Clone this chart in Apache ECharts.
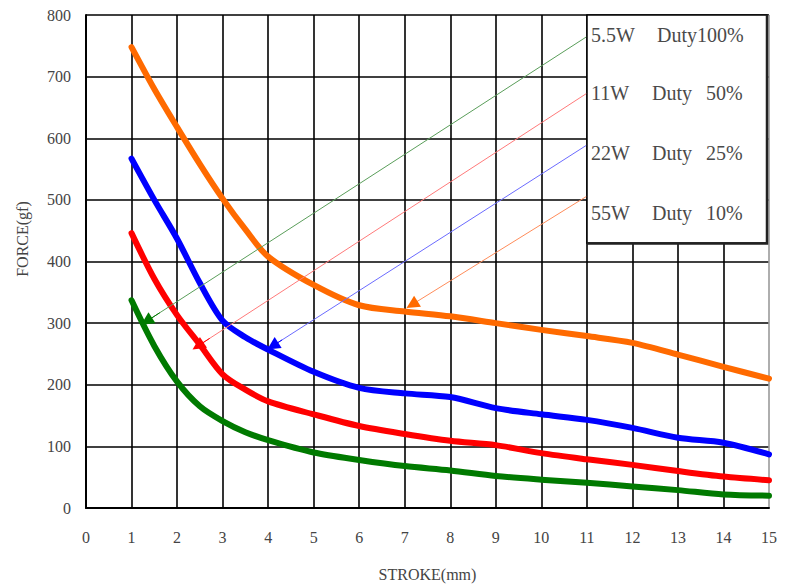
<!DOCTYPE html>
<html><head><meta charset="utf-8">
<script src="https://cdn.jsdelivr.net/npm/echarts@6.0.0/dist/echarts.min.js"></script>
<style>html,body{margin:0;padding:0;background:#fff}#c{width:790px;height:587px}</style>
</head><body><div id="c"></div>
<script>
// ---- data ----
const stroke = [1, 1.5, 2, 2.5, 3, 3.5, 4, 5, 6, 7, 8, 9, 10, 11, 12, 13, 14, 15];
const force55W = [748, 680, 618, 558, 502, 452, 408, 362, 329, 319, 311, 300, 289, 279, 268, 249, 229, 210];
const force22W = [567, 500, 437, 365, 304, 277, 257, 221, 195, 186, 180, 162, 152, 143, 130, 114, 106, 87];
const force11W = [446, 372, 313, 265, 217, 192, 173, 152, 133, 120, 109, 102, 89, 79, 70, 60, 51, 45];
const force5W5 = [337, 263, 205, 165, 141, 123, 110, 90, 78, 68, 61, 52, 46, 41, 35, 29, 22, 20];
const xTicks = [0,1,2,3,4,5,6,7,8,9,10,11,12,13,14,15];
const yTicks = [0,100,200,300,400,500,600,700,800];
const legendNames = ['5.5W', '11W', '22W', '55W'];
const legendDuty = ['Duty100%', 'Duty', 'Duty', 'Duty'];
const legendPct = ['', '50%', '25%', '10%'];
// arrow annotations: start (at legend box) and tip (at curve), in data units
const arrow5W5 = [[11.0, 765], [1.33, 303]];
const arrow11W = [[11.0, 673], [2.46, 263]];
const arrow22W = [[11.0, 589], [4.10, 263]];
const arrow55W = [[11.0, 506], [7.16, 330]];

const serif = '"Liberation Serif", "DejaVu Serif", serif';

function mkSeries(name, vals, color, thin, arrow) {
  const from = arrow[0], to = arrow[1];
  const near = [from[0] + (to[0] - from[0]) * 0.97, from[1] + (to[1] - from[1]) * 0.97];
  return {
    name, type: 'line', data: stroke.map((x, i) => [x, vals[i]]),
    smooth: 0.3, showSymbol: false, symbol: 'none',
    lineStyle: { color, width: 6, cap: 'round', join: 'round' },
    itemStyle: { color }, z: 3, animation: false,
    emphasis: { disabled: true },
    markLine: {
      silent: true, animation: false, label: { show: false }, emphasis: { disabled: true },
      data: [
        [{ coord: from, symbol: 'none', lineStyle: { color: thin, width: 1, type: 'solid' } }, { coord: to, symbol: 'none' }],
        [{ coord: near, symbol: 'none', lineStyle: { color, width: 1, type: 'solid' } }, { coord: to, symbol: 'triangle', symbolSize: 13 }]
      ]
    }
  };
}

const xSplitColors = xTicks.map((t, i) => i === xTicks.length - 1 ? '#9a9a9a' : '#000');

const graphic = [
  { type: 'rect', z: 100, shape: { x: 587, y: 15, width: 180, height: 228 }, style: { fill: '#fff', stroke: '#000', lineWidth: 1.5 } },
  { type: 'polyline', z: 101, shape: { points: [[767, 15], [767, 243.5], [587, 243.5]] }, style: { stroke: '#222', lineWidth: 2.5, fill: null } },
  { type: 'text', z: 102, x: 22, y: 239, rotation: Math.PI / 2, style: { text: 'FORCE(gf)', font: '16px ' + serif, fill: '#444', align: 'center', verticalAlign: 'middle' } }
];
const rowY = [35, 93, 153, 213];
legendNames.forEach((n, i) => {
  graphic.push({ type: 'text', z: 102, x: 591, y: rowY[i], style: { text: n, font: '20px ' + serif, fill: '#4a4a4a', verticalAlign: 'middle' } });
  graphic.push({ type: 'text', z: 102, x: i === 0 ? 657 : 652, y: rowY[i], style: { text: legendDuty[i], font: '20px ' + serif, fill: '#4a4a4a', verticalAlign: 'middle' } });
  if (legendPct[i]) graphic.push({ type: 'text', z: 102, x: 706, y: rowY[i], style: { text: legendPct[i], font: '20px ' + serif, fill: '#4a4a4a', verticalAlign: 'middle' } });
});

const chart = echarts.init(document.getElementById('c'), null, { renderer: 'svg' });
chart.setOption({
  backgroundColor: '#fff',
  animation: false,
  grid: { left: 86, right: 21, top: 15, bottom: 68, containLabel: false },
  xAxis: {
    type: 'value', min: 0, max: 15, interval: 1,
    name: 'STROKE(mm)', nameLocation: 'middle', nameGap: 58,
    nameTextStyle: { fontFamily: serif, fontSize: 16, color: '#444' },
    axisLine: { show: true, lineStyle: { color: '#000', width: 2 } },
    axisTick: { show: false },
    axisLabel: { margin: 21, fontFamily: serif, fontSize: 16, color: '#444', formatter: v => String(v) },
    splitLine: { show: true, lineStyle: { color: xSplitColors, width: 1.6 } }
  },
  yAxis: {
    type: 'value', min: 0, max: 800, interval: 100,
    axisLine: { show: true, lineStyle: { color: '#000', width: 2 } },
    axisTick: { show: false },
    axisLabel: { margin: 15, fontFamily: serif, fontSize: 16, color: '#444' },
    splitLine: { show: true, lineStyle: { color: '#000', width: 1.6 } }
  },
  graphic,
  series: [
    mkSeries('55W Duty 10%', force55W, '#ff6a00', '#ff8c5a', arrow55W),
    mkSeries('22W Duty 25%', force22W, '#0000ff', '#6b6bff', arrow22W),
    mkSeries('11W Duty 50%', force11W, '#ff0000', '#ff7a7a', arrow11W),
    mkSeries('5.5W Duty100%', force5W5, '#007a00', '#5a9e5a', arrow5W5)
  ]
});
</script></body></html>
